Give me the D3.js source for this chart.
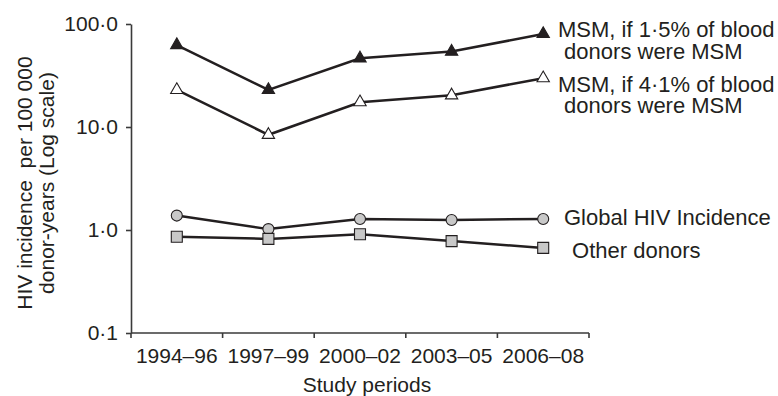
<!DOCTYPE html>
<html>
<head>
<meta charset="utf-8">
<script src="https://cdn.jsdelivr.net/npm/d3@7"></script>
<style>
  html, body { margin: 0; padding: 0; background: #fff; }
  svg { display: block; font-family: "Liberation Sans", Arial, sans-serif; }
  text { fill: #231f20; }
</style>
</head>
<body>
<svg id="chart" width="778" height="396"></svg>
<script>
// Study periods (x categories)
const periods = ["1994–96", "1997–99", "2000–02", "2003–05", "2006–08"];

// HIV incidence per 100 000 donor-years
const msm15 = [62.5, 22.9, 46.4, 54.0, 80.0];   // MSM, if 1·5% of blood donors were MSM
const msm41 = [22.9, 8.4, 17.4, 20.3, 29.8];    // MSM, if 4·1% of blood donors were MSM
const globalIncidence = [1.38, 1.02, 1.28, 1.25, 1.28];
const otherDonors = [0.86, 0.82, 0.91, 0.78, 0.67];

// Log-axis ticks and their labels
const yTicks = [0.1, 1, 10, 100];
const yTickLabels = ["0·1", "1·0", "10·0", "100·0"];

const seriesLabels = [
  ["MSM, if 1·5% of blood", " donors were MSM"],
  ["MSM, if 4·1% of blood", " donors were MSM"],
  ["Global HIV Incidence"],
  [" Other donors"]
];

const ink = "#231f20";
const axisInk = "#3a3a3a";
const svg = d3.select("#chart");

const x = d3.scaleBand().domain(periods).range([131, 589]);
const y = d3.scaleLog().domain([0.1, 100]).range([333, 24]);
const cx = p => x(p) + x.bandwidth() / 2;

// x axis: baseline with ticks at the band boundaries, labels centred in each band
const xAxis = svg.append("g").attr("transform", "translate(0,333)");
const boundaries = periods.map(p => x(p)).concat([x(periods[periods.length - 1]) + x.bandwidth()]);
xAxis.append("line")
  .attr("x1", boundaries[0]).attr("x2", boundaries[boundaries.length - 1])
  .attr("y1", 0).attr("y2", 0)
  .attr("stroke", axisInk).attr("stroke-width", 1.6);
xAxis.selectAll("line.bt").data(boundaries).join("line")
  .attr("class", "bt")
  .attr("x1", d => d).attr("x2", d => d)
  .attr("y1", 0).attr("y2", 5)
  .attr("stroke", axisInk).attr("stroke-width", 1.6);
xAxis.selectAll("text.cat").data(periods).join("text")
  .attr("class", "cat")
  .attr("x", d => cx(d))
  .attr("y", 30)
  .attr("text-anchor", "middle")
  .attr("font-size", 21)
  .text(d => d);

// y axis (log scale)
const yAxis = svg.append("g")
  .attr("transform", "translate(131,0)")
  .call(d3.axisLeft(y).tickValues(yTicks)
    .tickFormat((d, i) => yTickLabels[i])
    .tickSizeInner(5).tickSizeOuter(0).tickPadding(8));
yAxis.select(".domain").attr("stroke", axisInk).attr("stroke-width", 1.6);
yAxis.selectAll(".tick line").attr("stroke", axisInk).attr("stroke-width", 1.6);
yAxis.selectAll(".tick text")
  .attr("font-size", 21)
  .attr("font-family", "Liberation Sans, Arial, sans-serif")
  .attr("fill", ink);

// Axis titles
svg.append("text")
  .attr("x", 367).attr("y", 392)
  .attr("text-anchor", "middle")
  .attr("font-size", 21)
  .text("Study periods");

const yTitle = svg.append("text")
  .attr("transform", "translate(0,183) rotate(-90)")
  .attr("text-anchor", "middle")
  .attr("font-size", 21)
  .style("white-space", "pre");
yTitle.append("tspan").attr("x", 0).attr("y", 32).text("HIV incidence  per 100 000");
yTitle.append("tspan").attr("x", 0).attr("y", 54).text("donor-years (Log scale)");

// Series lines and markers
const line = d3.line().x((d, i) => cx(periods[i])).y(d => y(d));
const series = [
  { values: msm15, symbol: d3.symbolTriangle, size: 66, fill: ink },
  { values: msm41, symbol: d3.symbolTriangle, size: 66, fill: "#ffffff" },
  { values: globalIncidence, symbol: d3.symbolCircle, size: 95, fill: "#c8c8c8" },
  { values: otherDonors, symbol: d3.symbolSquare, size: 121, fill: "#c8c8c8" }
];

series.forEach(s => {
  svg.append("path")
    .attr("d", line(s.values))
    .attr("fill", "none")
    .attr("stroke", ink)
    .attr("stroke-width", 2.5);
  svg.append("g").selectAll("path").data(s.values).join("path")
    .attr("transform", (d, i) => `translate(${cx(periods[i])},${y(d)})`)
    .attr("d", d3.symbol().type(s.symbol).size(s.size))
    .attr("fill", s.fill)
    .attr("stroke", ink)
    .attr("stroke-width", 1.1);
});

// Series labels beside the last period
const labelPos = [
  { x: 558, y: 37 },
  { x: 558, y: 91.5 },
  { x: 564, y: 225 },
  { x: 566, y: 258 }
];
seriesLabels.forEach((lines, k) => {
  lines.forEach((ln, j) => {
    svg.append("text")
      .attr("font-size", 22)
      .style("white-space", "pre")
      .attr("x", labelPos[k].x)
      .attr("y", labelPos[k].y + j * 21.5)
      .text(ln);
  });
});
</script>
</body>
</html>
